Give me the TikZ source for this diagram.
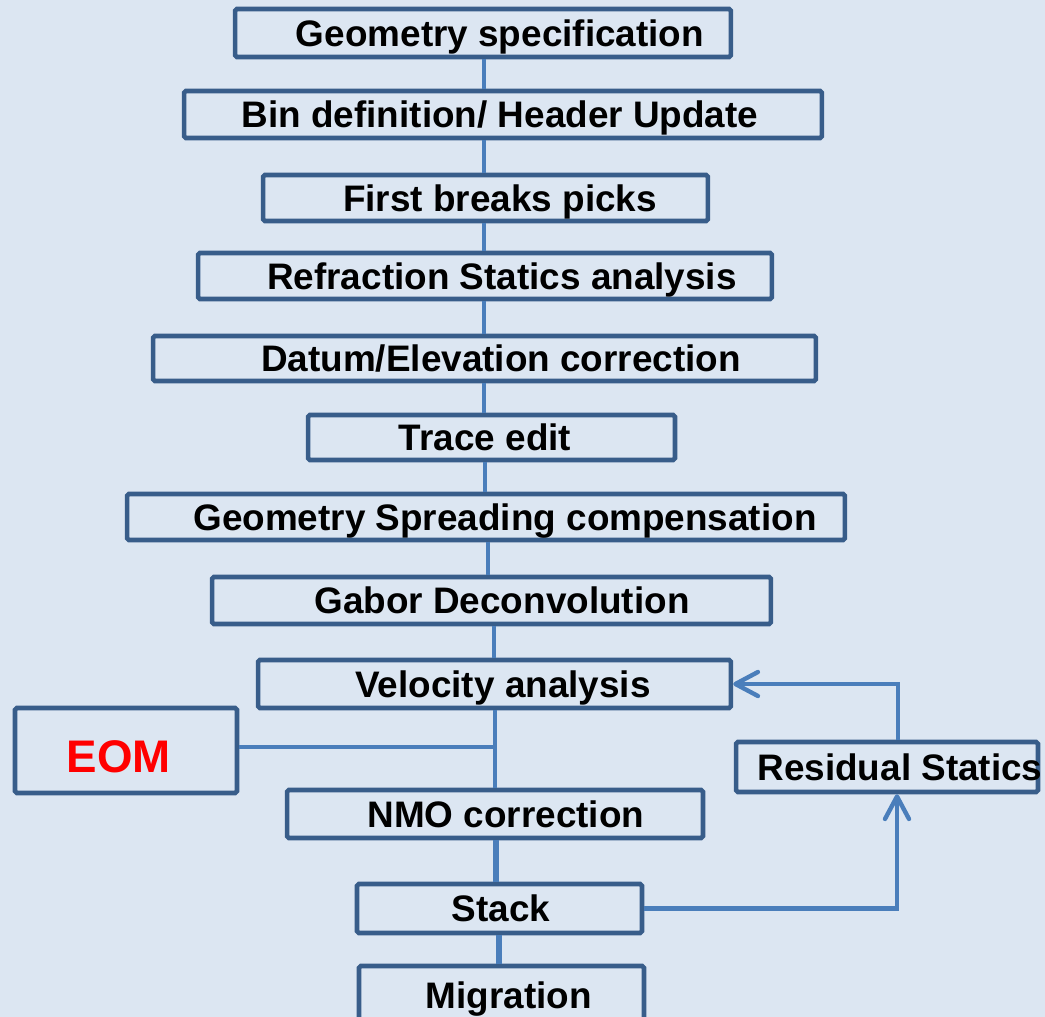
\documentclass[tikz,border=0pt]{standalone}
\usepackage{fontspec}
\setmainfont{Liberation Sans}
\usetikzlibrary{arrows.meta}

\definecolor{bgblue}{HTML}{DCE6F2}
\definecolor{boxline}{HTML}{385D8A}
\definecolor{linkblue}{HTML}{4A7EBB}
\definecolor{eomred}{HTML}{FF0000}

% text sits off the middle of its box, as in the slide
\newcommand\nudge[2]{\makebox[0pt]{\hspace*{#1}#2}}

\tikzset{
  stage/.style={draw=boxline, line width=2.6pt, rounded corners=1pt, inner sep=0pt,
    font=\fontsize{21}{25}\selectfont\bfseries, text height=0.53cm, text depth=0pt},
  link/.style={linkblue, line width=2.5pt},
  loopback/.style={link, -{Straight Barb[length=0.45cm,width=0.48cm,round]}},
}

\begin{document}
\begin{tikzpicture}[x=0.02cm,y=-0.02cm]
	\fill[bgblue] (0,0) rectangle (1045,1017);
	\useasboundingbox (0,0) rectangle (1045,1017);
	\clip (0,0) rectangle (1045,1017);

	% main processing chain
	\node[stage, minimum width=9.92cm, minimum height=0.96cm] (geo) at (483,33) {\nudge{0.68cm}{Geometry specification}};
	\node[stage, minimum width=12.76cm, minimum height=0.94cm] (bin) at (503,114.5) {\nudge{-0.12cm}{Bin definition/ Header Update}};
	\node[stage, minimum width=8.9cm, minimum height=0.92cm] (fb) at (485.5,198) {\nudge{0.58cm}{First breaks picks}};
	\node[stage, minimum width=11.48cm, minimum height=0.92cm] (refr) at (485,276) {\nudge{0.68cm}{Refraction Statics analysis}};
	\node[stage, minimum width=13.26cm, minimum height=0.9cm] (datum) at (484.5,358.5) {\nudge{0.66cm}{Datum/Elevation correction}};
	\node[stage, minimum width=7.34cm, minimum height=0.9cm] (trace) at (491.5,437.5) {\nudge{-0.26cm}{Trace edit}};
	\node[stage, minimum width=14.36cm, minimum height=0.92cm] (gsc) at (486,517) {\nudge{0.76cm}{Geometry Spreading compensation}};
	\node[stage, minimum width=11.18cm, minimum height=0.94cm] (gabor) at (491.5,600.5) {\nudge{0.42cm}{Gabor Deconvolution}};
	\node[stage, minimum width=9.46cm, minimum height=0.96cm] (vel) at (494.5,684) {\nudge{0.34cm}{Velocity analysis}};
	\node[stage, minimum width=8.32cm, minimum height=0.96cm] (nmo) at (495,814) {\nudge{0.44cm}{NMO correction}};
	\node[stage, minimum width=5.7cm, minimum height=0.98cm] (stack) at (499.5,908.5) {\nudge{0.06cm}{Stack}};
	\node[stage, minimum width=5.7cm, minimum height=1.16cm] (mig) at (501.5,995) {\nudge{0.3cm}{Migration}};

	% side boxes
	\node[stage, minimum width=4.44cm, minimum height=1.7cm, text=eomred,
	      font=\fontsize{26}{30}\selectfont\bfseries, text height=0.86cm] (eom) at (126,750.5) {\nudge{-0.28cm}{EOM}};
	\node[stage, minimum width=6.04cm, minimum height=1cm] (res) at (887,767) {\nudge{0.52cm}{Residual Statics}};

	\foreach \a/\b/\x in {geo/bin/484, bin/fb/484, fb/refr/484, refr/datum/484, datum/trace/484,
	                      trace/gsc/485, gsc/gabor/488, gabor/vel/494, vel/nmo/495}{
	  \draw[link] (\a.south -| \x,0) -- (\b.north -| \x,0);
	}
	\draw[link, line width=3pt] (nmo.south -| 496,0) -- (stack.north -| 496,0);
	\draw[link, line width=3.2pt] (stack.south -| 499,0) -- (mig.north -| 499,0);

	\draw[link] (eom.east |- 0,747) -- (495,747);

	% feedback loop
	\draw[loopback] (stack.east) -| (res.south -| 897,0);
	\draw[loopback] (res.north -| 898,0) |- (vel.east);
\end{tikzpicture}
\end{document}
